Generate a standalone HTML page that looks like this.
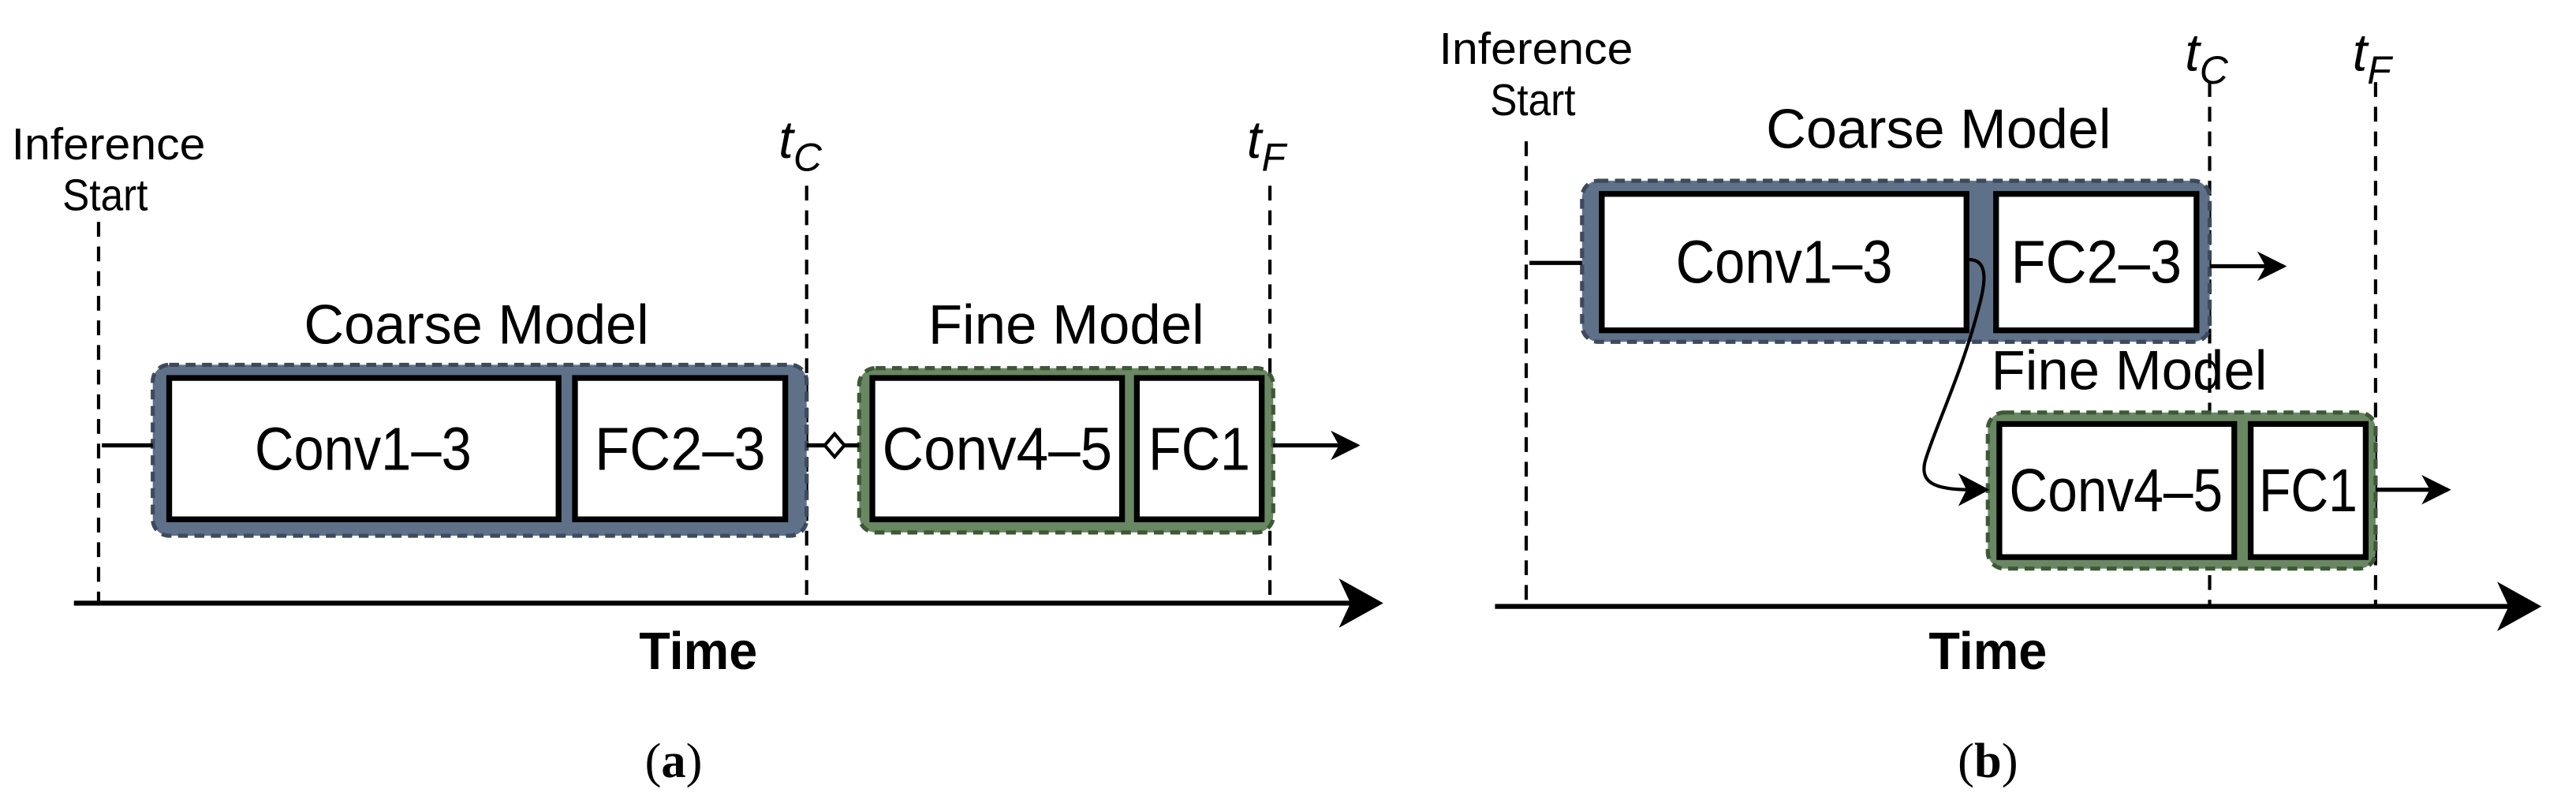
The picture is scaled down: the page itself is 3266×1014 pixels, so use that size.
<!DOCTYPE html>
<html><head><meta charset="utf-8"><style>html,body{margin:0;padding:0;background:#fff}svg{display:block}</style></head><body>
<svg width="3266" height="1014" viewBox="0 0 1568 486.8" xmlns="http://www.w3.org/2000/svg" font-family="Liberation Sans, sans-serif">
<defs>
<marker id="ah" markerWidth="18" markerHeight="18" refX="16" refY="9" orient="auto" markerUnits="userSpaceOnUse"><path d="M0,0 L18,9 L0,18 L5,9 Z" fill="#000"/></marker>
</defs>
<rect width="1568" height="487" fill="#fff"/>
<!-- (a) -->
<g font-size="27" text-anchor="middle">
<text x="66" y="97" textLength="118" lengthAdjust="spacingAndGlyphs">Inference</text><text x="64" y="128" textLength="52" lengthAdjust="spacingAndGlyphs">Start</text>
</g>
<g stroke="#000" stroke-width="2" stroke-dasharray="9,6">
<line x1="60" y1="135" x2="60" y2="366"/>
<line x1="491" y1="113" x2="491" y2="366"/>
<line x1="773" y1="113" x2="773" y2="366"/>
</g>
<text x="474" y="96" font-size="32" font-style="italic">t<tspan font-size="24" dy="8">C</tspan></text>
<text x="759" y="96" font-size="32" font-style="italic">t<tspan font-size="24" dy="8">F</tspan></text>
<text x="290" y="209" font-size="34" text-anchor="middle" textLength="210" lengthAdjust="spacingAndGlyphs">Coarse Model</text>
<text x="649" y="209" font-size="34" text-anchor="middle" textLength="168" lengthAdjust="spacingAndGlyphs">Fine Model</text>
<rect x="93" y="222" width="398" height="104" rx="10" fill="#5e7189" stroke="#3c4a5c" stroke-width="2.5" stroke-dasharray="6,4"/>
<rect x="103" y="230" width="237" height="86" fill="#fff" stroke="#000" stroke-width="3.5"/>
<rect x="350" y="230" width="128" height="86" fill="#fff" stroke="#000" stroke-width="3.5"/>
<rect x="523" y="224" width="252" height="100" rx="10" fill="#6a8763" stroke="#3c5835" stroke-width="2.5" stroke-dasharray="6,4"/>
<rect x="531" y="230" width="152" height="86" fill="#fff" stroke="#000" stroke-width="3.5"/>
<rect x="692" y="230" width="76" height="86" fill="#fff" stroke="#000" stroke-width="3.5"/>
<g font-size="37" text-anchor="middle">
<text x="221" y="286" textLength="132" lengthAdjust="spacingAndGlyphs">Conv1–3</text><text x="414" y="286" textLength="104" lengthAdjust="spacingAndGlyphs">FC2–3</text>
<text x="607" y="286" textLength="140" lengthAdjust="spacingAndGlyphs">Conv4–5</text><text x="730" y="286" textLength="62" lengthAdjust="spacingAndGlyphs">FC1</text>
</g>
<line x1="62" y1="271" x2="93" y2="271" stroke="#000" stroke-width="2.5"/>
<line x1="491" y1="271" x2="523" y2="271" stroke="#000" stroke-width="2.5"/>
<path d="M508,264 L514,271 L508,278 L502,271 Z" fill="#fff" stroke="#000" stroke-width="2"/>
<line x1="775" y1="271" x2="826" y2="271" stroke="#000" stroke-width="2.5" marker-end="url(#ah)"/>
<line x1="45" y1="367" x2="825" y2="367" stroke="#000" stroke-width="3"/>
<path d="M815,352 L842,367 L815,382 L822,367 Z" fill="#000"/>
<text x="425" y="407" font-size="32" font-weight="bold" text-anchor="middle" textLength="72" lengthAdjust="spacingAndGlyphs">Time</text>
<text x="410" y="473" font-size="30" text-anchor="middle" font-family="Liberation Serif, serif">(<tspan font-weight="bold">a</tspan>)</text>
<!-- (b) -->
<g font-size="27" text-anchor="middle">
<text x="935" y="39" textLength="118" lengthAdjust="spacingAndGlyphs">Inference</text><text x="933" y="70" textLength="52" lengthAdjust="spacingAndGlyphs">Start</text>
</g>
<g stroke="#000" stroke-width="2" stroke-dasharray="9,6">
<line x1="929" y1="86" x2="929" y2="368"/>
<line x1="1345" y1="50" x2="1345" y2="368"/>
<line x1="1446" y1="50" x2="1446" y2="368"/>
</g>
<text x="1330" y="43" font-size="32" font-style="italic">t<tspan font-size="24" dy="8">C</tspan></text>
<text x="1432" y="43" font-size="32" font-style="italic">t<tspan font-size="24" dy="8">F</tspan></text>
<text x="1180" y="90" font-size="34" text-anchor="middle" textLength="210" lengthAdjust="spacingAndGlyphs">Coarse Model</text>
<text x="1296" y="237" font-size="34" text-anchor="middle" textLength="168" lengthAdjust="spacingAndGlyphs">Fine Model</text>
<rect x="963" y="110" width="382" height="98" rx="10" fill="#5e7189" stroke="#3c4a5c" stroke-width="2.5" stroke-dasharray="6,4"/>
<rect x="975" y="118" width="222" height="83" fill="#fff" stroke="#000" stroke-width="3.5"/>
<rect x="1215" y="118" width="122" height="83" fill="#fff" stroke="#000" stroke-width="3.5"/>
<rect x="1210" y="251" width="236" height="95" rx="10" fill="#6a8763" stroke="#3c5835" stroke-width="2.5" stroke-dasharray="6,4"/>
<rect x="1217" y="258" width="143" height="81" fill="#fff" stroke="#000" stroke-width="3.5"/>
<rect x="1370" y="258" width="70" height="81" fill="#fff" stroke="#000" stroke-width="3.5"/>
<g font-size="37" text-anchor="middle">
<text x="1086" y="172" textLength="132" lengthAdjust="spacingAndGlyphs">Conv1–3</text><text x="1276" y="172" textLength="104" lengthAdjust="spacingAndGlyphs">FC2–3</text>
<text x="1288" y="311" textLength="130" lengthAdjust="spacingAndGlyphs">Conv4–5</text><text x="1405" y="311" textLength="60" lengthAdjust="spacingAndGlyphs">FC1</text>
</g>
<line x1="931" y1="160" x2="963" y2="160" stroke="#000" stroke-width="2.5"/>
<path d="M1197,158 C1210,157 1209,170 1205,185 C1195,225 1178,260 1172,280 C1168,294 1178,298 1200,298" fill="none" stroke="#000" stroke-width="2"/>
<path d="M1192,288 L1211,298 L1192,308 L1197,298 Z" fill="#000"/>
<line x1="1345" y1="162" x2="1390" y2="162" stroke="#000" stroke-width="2.5" marker-end="url(#ah)"/>
<line x1="1446" y1="298" x2="1490" y2="298" stroke="#000" stroke-width="2.5" marker-end="url(#ah)"/>
<line x1="910" y1="369" x2="1530" y2="369" stroke="#000" stroke-width="3"/>
<path d="M1520,354 L1547,369 L1520,384 L1527,369 Z" fill="#000"/>
<text x="1210" y="407" font-size="32" font-weight="bold" text-anchor="middle" textLength="72" lengthAdjust="spacingAndGlyphs">Time</text>
<text x="1210" y="473" font-size="30" text-anchor="middle" font-family="Liberation Serif, serif">(<tspan font-weight="bold">b</tspan>)</text>
</svg>
</body></html>
